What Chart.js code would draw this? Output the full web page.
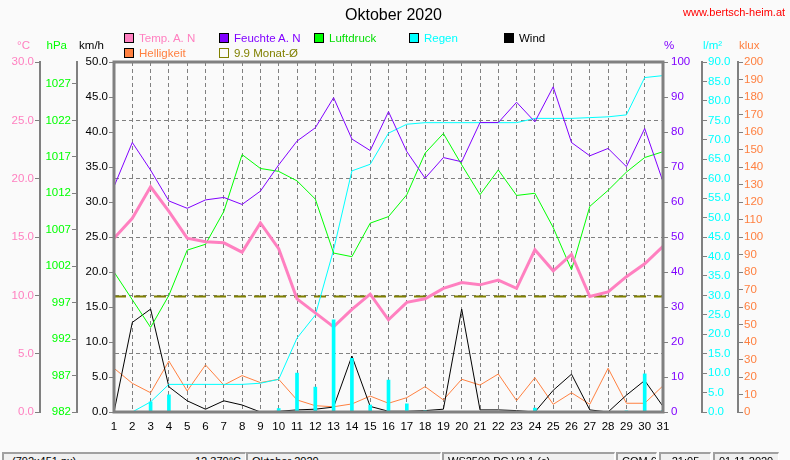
<!DOCTYPE html>
<html>
<head>
<meta charset="utf-8">
<script src="https://cdn.jsdelivr.net/npm/chart.js@4.4.1/dist/chart.umd.min.js"></script>
<style>
  html, body { margin:0; padding:0; background:#FAFAFA; overflow:hidden; }
  #wrap { position:relative; width:790px; height:460px; font-family:"Liberation Sans", Arial, sans-serif; color:#000; overflow:hidden; }
  #c { position:absolute; left:0; top:0; }
  .abs { position:absolute; white-space:nowrap; line-height:1; }
  .lg { position:absolute; white-space:nowrap; font-size:11.5px; line-height:12px; height:12px; }
  .lg i { position:absolute; left:0; top:1px; width:8px; height:8px; border:1px solid #000; }
  .lg span { position:absolute; left:15px; top:0; }
  .sb { position:absolute; top:452px; height:18px; background:#F0F0F0; border-top:2px solid #A0A0A0; border-left:2px solid #A0A0A0; border-right:1px solid #FFFFFF; font-size:11px; line-height:14px; overflow:hidden; box-sizing:border-box; padding:0 4px; white-space:nowrap; }
</style>
</head>
<body>
<div id="wrap">
  <canvas id="c" width="790" height="460"></canvas>
  <div class="abs" style="left:0;width:787px;text-align:center;top:7px;font-size:16px;">Oktober 2020</div>
  <div class="abs" style="left:683px;top:7px;font-size:11px;color:#FF0000;">www.bertsch-heim.at</div>

  <div class="lg" style="left:124px;top:32px;"><i style="background:#FF80C0"></i><span style="color:#FF80C0">Temp. A. N</span></div>
  <div class="lg" style="left:219px;top:32px;"><i style="background:#8000FF"></i><span style="color:#8000FF">Feuchte A. N</span></div>
  <div class="lg" style="left:314px;top:32px;"><i style="background:#00FF00"></i><span style="color:#00DD00">Luftdruck</span></div>
  <div class="lg" style="left:409px;top:32px;"><i style="background:#00FFFF"></i><span style="color:#00FFFF">Regen</span></div>
  <div class="lg" style="left:504px;top:32px;"><i style="background:#000000"></i><span style="color:#000000">Wind</span></div>
  <div class="lg" style="left:124px;top:47px;"><i style="background:#FF8040"></i><span style="color:#FF8040">Helligkeit</span></div>
  <div class="lg" style="left:219px;top:47px;"><i style="background:transparent;border-color:#808000"></i><span style="color:#808000">9.9 Monat-Ø</span></div>

  <div class="sb" style="left:2px;width:244px;"><span style="float:left;padding-left:4px">(792x451 px)</span><span style="float:right">12.370°C</span></div>
  <div class="sb" style="left:246px;width:195px;">Oktober 2020</div>
  <div class="sb" style="left:442px;width:173px;">WS2500 PC V2.1 (c) ...</div>
  <div class="sb" style="left:616px;width:41px;">COM 6</div>
  <div class="sb" style="left:659px;width:52px;text-align:center;">21:05</div>
  <div class="sb" style="left:713px;width:66px;">01.11.2020</div>
</div>
<script>
// ---- data ----
const days = ['1','2','3','4','5','6','7','8','9','10','11','12','13','14','15','16','17','18','19','20','21','22','23','24','25','26','27','28','29','30','31'];
const temp = [14.9, 16.6, 19.3, 17.2, 14.9, 14.6, 14.5, 13.7, 16.2, 14.0, 9.7, 8.5, 7.3, 8.8, 10.1, 7.9, 9.4, 9.7, 10.6, 11.1, 10.9, 11.3, 10.6, 13.9, 12.1, 13.5, 9.9, 10.3, 11.6, 12.7, 14.2];
const humidity = [64.4, 77.0, 69.1, 60.3, 58.2, 60.6, 61.3, 59.3, 63.1, 70.6, 77.4, 81.2, 89.8, 78.0, 74.7, 85.8, 74.4, 66.8, 72.7, 71.5, 82.7, 82.7, 88.5, 82.9, 92.9, 77.0, 73.2, 75.3, 70.1, 81.0, 65.8];
const pressure = [1001.2, 997.4, 993.6, 998.0, 1004.2, 1005.0, 1009.5, 1017.3, 1015.4, 1015.0, 1013.7, 1011.2, 1003.8, 1003.3, 1007.9, 1008.8, 1011.8, 1017.5, 1020.2, 1015.9, 1011.8, 1015.2, 1011.7, 1012.0, 1007.3, 1001.5, 1010.2, 1012.4, 1014.9, 1016.9, 1017.7];
const rainSum = [0, 0, 2.6, 7.1, 7.1, 7.1, 7.1, 7.1, 7.4, 8.4, 19.0, 24.9, 41.7, 62.0, 63.7, 71.7, 74.0, 74.4, 74.4, 74.4, 74.4, 74.4, 74.4, 75.5, 75.5, 75.5, 75.7, 75.9, 76.4, 86.0, 86.5];
const rainDay = [0, 0, 2.6, 4.4, 0, 0, 0, 0, 0, 0.9, 10.0, 6.4, 23.7, 13.8, 1.8, 8.2, 2.1, 0.3, 0, 0, 0, 0, 0, 1.0, 0, 0, 0, 0, 0.3, 9.8, 0.4];
const wind = [0, 12.8, 14.7, 3.6, 1.6, 0.4, 1.6, 1.0, 0, 0.1, 0.3, 0.4, 0.7, 8.0, 0.8, 0.1, 0.1, 0.2, 0.4, 14.7, 0.3, 0.3, 0.2, 0, 3.1, 5.4, 0.3, 0, 2.4, 4.5, 0.8];
const light = [25.0, 16.4, 11.0, 29.1, 12.0, 26.9, 15.4, 20.8, 16.8, 18.7, 6.9, 3.6, 3.0, 4.6, 9.1, 5.0, 8.2, 14.5, 6.9, 18.7, 15.4, 21.7, 6.5, 19.6, 4.4, 11.0, 4.4, 25.0, 5.0, 5.0, 15.0];
const monthMean = 9.9;

// ---- tick labels ----
const tempTicks = [0, 5, 10, 15, 20, 25, 30];
const hpaTicks = [982, 987, 992, 997, 1002, 1007, 1012, 1017, 1022, 1027];
const windTicks = [0, 5, 10, 15, 20, 25, 30, 35, 40, 45, 50];
const humTicks = [0, 10, 20, 30, 40, 50, 60, 70, 80, 90, 100];
const rainTicks = [0, 5, 10, 15, 20, 25, 30, 35, 40, 45, 50, 55, 60, 65, 70, 75, 80, 85, 90];
const luxTicks = [0, 10, 20, 30, 40, 50, 60, 70, 80, 90, 100, 110, 120, 130, 140, 150, 160, 170, 180, 190, 200];

const FONT = '"Liberation Sans", Arial, sans-serif';
const tickFont = { family: FONT, size: 11.5 };
const GRAY = '#808080';

function yScale(o) {
  return {
    type: 'linear', position: o.pos, weight: o.weight, min: o.min, max: o.max,
    afterBuildTicks: s => { s.ticks = o.ticks.map(v => ({ value: v })); },
    afterFit: s => { s.width = o.width; },
    ticks: { color: o.color, font: tickFont, padding: o.pad, autoSkip: false,
             callback: v => o.dec ? Number(v).toFixed(o.dec) : String(v) },
    grid: { display: true, drawOnChartArea: !!o.grid, drawTicks: true, tickLength: 5,
            tickColor: GRAY, color: GRAY, lineWidth: 1 },
    border: { display: true, color: GRAY, width: 2, dash: o.grid ? [4, 3] : [] }
  };
}

const axisTitles = {
  tc: ['°C', '#FF80C0'], hpa: ['hPa', '#00FF00'], kmh: ['km/h', '#000000'],
  hum: ['%', '#8000FF'], rain: ['l/m²', '#00FFFF'], lux: ['klux', '#FF8040']
};

const framePlugin = {
  id: 'frame',
  afterDatasetsDraw(chart) {
    const { ctx, chartArea: a } = chart;
    ctx.save();
    ctx.strokeStyle = GRAY;
    ctx.lineWidth = 3;
    ctx.strokeRect(a.left, a.top, a.right - a.left, a.bottom - a.top);
    ctx.restore();
  },
  afterDraw(chart) {
    const ctx = chart.ctx;
    ctx.save();
    ctx.font = '11.5px ' + FONT;
    ctx.textBaseline = 'middle';
    for (const id in axisTitles) {
      const s = chart.scales[id];
      const [txt, col] = axisTitles[id];
      ctx.fillStyle = col;
      if (s.position === 'left') { ctx.textAlign = 'right'; ctx.fillText(txt, s.right - 10, 46); }
      else { ctx.textAlign = 'left'; ctx.fillText(txt, s.left + 1, 46); }
    }
    ctx.restore();
  }
};

const lineDs = (label, data, axis, color, width, order) => ({
  type: 'line', label, data, yAxisID: axis, borderColor: color, backgroundColor: color,
  borderWidth: width, pointRadius: 0, tension: 0, fill: false, order
});

new Chart(document.getElementById('c'), {
  type: 'line',
  data: {
    labels: days,
    datasets: [
      { type: 'bar', label: 'Regen/Tag', data: rainDay, yAxisID: 'rain', backgroundColor: '#00FFFF',
        barThickness: 3, order: 0 },
      lineDs('Temp. A. N', temp, 'tc', '#FF80C0', 3, 1),
      lineDs('Feuchte A. N', humidity, 'hum', '#8000FF', 1, 2),
      lineDs('Luftdruck', pressure, 'hpa', '#00FF00', 1, 3),
      lineDs('Regen', rainSum, 'rain', '#00FFFF', 1, 4),
      lineDs('Wind', wind, 'kmh', '#000000', 1, 5),
      lineDs('Helligkeit', light, 'lux', '#FF8040', 1, 6),
      Object.assign(lineDs('Monat-Ø', [{ x: days[0], y: monthMean }, { x: days[days.length - 1], y: monthMean }], 'tc', '#808000', 2, 7),
        { borderDash: [12, 8] })
    ]
  },
  options: {
    responsive: false, animation: false, events: [],
    layout: { padding: { left: 0, right: 0, top: 62, bottom: 18 } },
    plugins: { legend: { display: false }, tooltip: { enabled: false }, title: { display: false } },
    scales: {
      x: {
        type: 'category', labels: days, offset: false,
        afterFit: s => { s.height = 30; },
        grid: { offset: false, color: GRAY, drawTicks: false, lineWidth: 1 },
        border: { display: true, color: GRAY, width: 2, dash: [4, 3] },
        ticks: { color: '#000', font: tickFont, padding: 8, autoSkip: false, maxRotation: 0 }
      },
      tc:   yScale({ pos: 'left',  weight: 3, min: 0,   max: 30,   ticks: tempTicks, color: '#FF80C0', width: 40, pad: 1, dec: 1, grid: true }),
      hpa:  yScale({ pos: 'left',  weight: 2, min: 982, max: 1030, ticks: hpaTicks,  color: '#00FF00', width: 37, pad: 1, dec: 0 }),
      kmh:  yScale({ pos: 'left',  weight: 1, min: 0,   max: 50,   ticks: windTicks, color: '#000000', width: 37, pad: 1, dec: 1 }),
      hum:  yScale({ pos: 'right', weight: 1, min: 0,   max: 100,  ticks: humTicks,  color: '#8000FF', width: 39, pad: 3, dec: 0 }),
      rain: yScale({ pos: 'right', weight: 2, min: 0,   max: 90,   ticks: rainTicks, color: '#00FFFF', width: 36, pad: 1, dec: 1 }),
      lux:  yScale({ pos: 'right', weight: 3, min: 0,   max: 200,  ticks: luxTicks,  color: '#FF8040', width: 52, pad: 1, dec: 0 })
    }
  },
  plugins: [framePlugin]
});
</script>
</body>
</html>
